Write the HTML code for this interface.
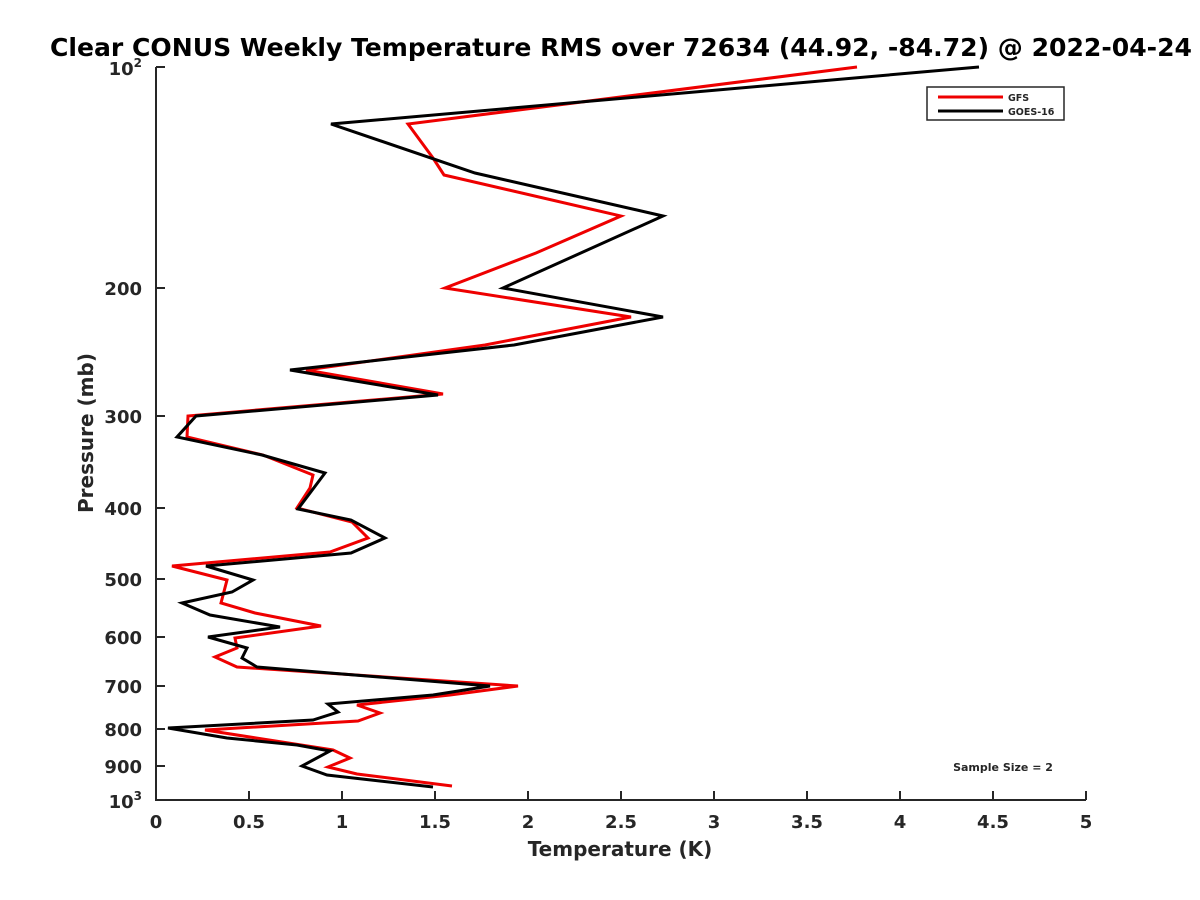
<!DOCTYPE html>
<html><head><style>body{margin:0;background:#fff}svg{display:block}text{font-family:"DejaVu Sans","Liberation Sans",sans-serif;font-weight:bold;fill:#262626}</style></head><body>
<svg width="1200" height="900" xmlns="http://www.w3.org/2000/svg">
<rect width="1200" height="900" fill="#fff"/>
<text x="50" y="56" font-size="25" textLength="1142" lengthAdjust="spacingAndGlyphs" style="fill:#000">Clear CONUS Weekly Temperature RMS over 72634 (44.92, -84.72) @ 2022-04-24</text>
<g stroke="#262626" stroke-width="2" fill="none">
<path d="M156,67V800H1086"/>
<path d="M249,800v-9M342,800v-9M435,800v-9M528,800v-9M621,800v-9M714,800v-9M807,800v-9M900,800v-9M993,800v-9M1086,800v-9"/>
<path d="M156,67h9M156,288h9M156,416h9M156,508h9M156,579h9M156,637h9M156,686h9M156,729h9M156,766h9"/>
</g>
<g font-size="18" text-anchor="middle">
<text x="156" y="828">0</text><text x="249" y="828">0.5</text><text x="342" y="828">1</text><text x="435" y="828">1.5</text><text x="528" y="828">2</text><text x="621" y="828">2.5</text><text x="714" y="828">3</text><text x="807" y="828">3.5</text><text x="900" y="828">4</text><text x="993" y="828">4.5</text><text x="1086" y="828">5</text>
</g>
<g font-size="18" text-anchor="end">
<text x="142" y="75">10<tspan font-size="12" dy="-8">2</tspan></text>
<text x="142" y="295">200</text><text x="142" y="423">300</text><text x="142" y="515">400</text><text x="142" y="586">500</text><text x="142" y="644">600</text><text x="142" y="693">700</text><text x="142" y="736">800</text><text x="142" y="773">900</text>
<text x="142" y="808">10<tspan font-size="12" dy="-8">3</tspan></text>
</g>
<text x="620" y="856" font-size="20" text-anchor="middle">Temperature (K)</text>
<text transform="translate(93,433) rotate(-90)" font-size="20" text-anchor="middle">Pressure (mb)</text>
<polyline fill="none" stroke="#e00" stroke-width="3" stroke-linejoin="miter" points="857,67 408,124 433,158 444,175 621,216 536,253 445,288 631,317 485,345 306,370 443,394 188,416 187,437 263,455 313,475 310,488 297,508 352,522 368,538 330,552 172,566 227,580 221,603 255,613 321,626 235,638 237,648 215,657 237,667 518,686 450,695 357,705 380,713 358,721 205,730 333,750 350,758 328,767 357,774 452,786"/>
<polyline fill="none" stroke="#000" stroke-width="3" points="979,67 331,124 475,173 663,216 503,288 663,317 514,345 290,370 438,395 196,416 177,437 262,455 325,473 298,509 351,520 385,538 351,553 206,566 253,580 232,592 182,603 210,615 280,627 208,637 247,648 242,658 257,667 490,686 433,695 328,704 338,712 313,720 168,728 227,738 297,745 330,751 302,766 327,775 433,787"/>
<rect x="927" y="87" width="137" height="33" fill="#fff" stroke="#262626" stroke-width="1.5"/>
<line x1="938" y1="97" x2="1003" y2="97" stroke="#e00" stroke-width="3"/>
<line x1="938" y1="111" x2="1003" y2="111" stroke="#000" stroke-width="3"/>
<text x="1008" y="101" font-size="9.5">GFS</text>
<text x="1008" y="115" font-size="9.5">GOES-16</text>
<text x="1003" y="771" font-size="11" text-anchor="middle">Sample Size = 2</text>
</svg>
</body></html>
